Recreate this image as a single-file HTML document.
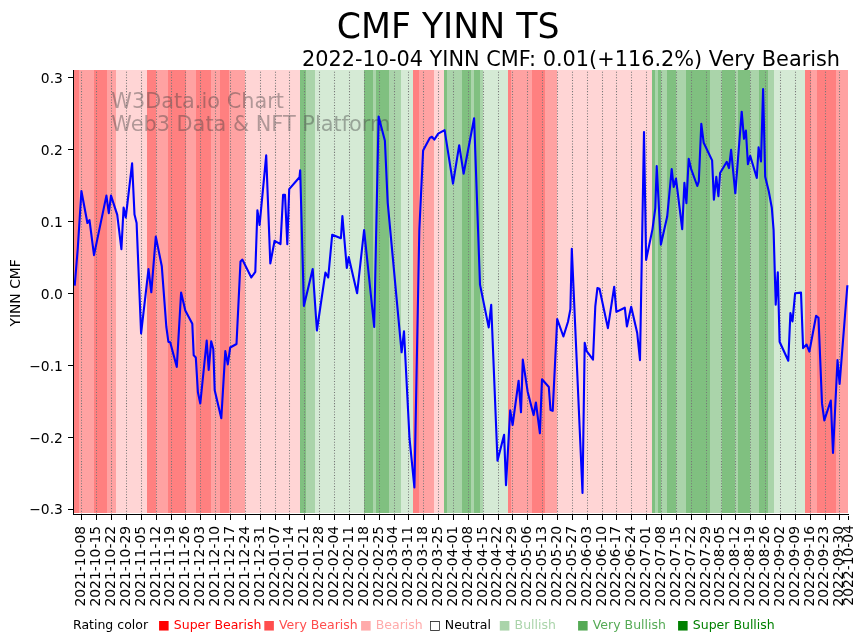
<!DOCTYPE html>
<html><head><meta charset="utf-8"><title>CMF YINN TS</title>
<style>html,body{margin:0;padding:0;background:#fff;}svg{display:block;will-change:transform;}text{font-family:"DejaVu Sans","Liberation Sans",sans-serif;}</style></head><body>
<svg width="867" height="641" viewBox="0 0 867 641">
<rect width="867" height="641" fill="#fff"/>
<g shape-rendering="crispEdges">
<rect x="74.00" y="69.9" width="5.00" height="442.90" fill="#ff8080"/>
<rect x="79.00" y="69.9" width="14.90" height="442.90" fill="#ffa2a2"/>
<rect x="93.90" y="69.9" width="13.00" height="442.90" fill="#ff8080"/>
<rect x="106.90" y="69.9" width="9.00" height="442.90" fill="#ffa2a2"/>
<rect x="115.90" y="69.9" width="31.10" height="442.90" fill="#ffd5d5"/>
<rect x="147.00" y="69.9" width="8.80" height="442.90" fill="#ff8080"/>
<rect x="155.80" y="69.9" width="12.20" height="442.90" fill="#ffa2a2"/>
<rect x="168.00" y="69.9" width="18.10" height="442.90" fill="#ff8080"/>
<rect x="186.10" y="69.9" width="9.95" height="442.90" fill="#ffa2a2"/>
<rect x="196.05" y="69.9" width="14.85" height="442.90" fill="#ff8080"/>
<rect x="210.90" y="69.9" width="8.90" height="442.90" fill="#ffa2a2"/>
<rect x="219.80" y="69.9" width="9.30" height="442.90" fill="#ff8080"/>
<rect x="229.10" y="69.9" width="15.70" height="442.90" fill="#ffa2a2"/>
<rect x="244.80" y="69.9" width="55.20" height="442.90" fill="#ffd5d5"/>
<rect x="300.00" y="69.9" width="5.90" height="442.90" fill="#80c080"/>
<rect x="305.90" y="69.9" width="9.00" height="442.90" fill="#aad4aa"/>
<rect x="314.90" y="69.9" width="48.90" height="442.90" fill="#d5ead5"/>
<rect x="363.80" y="69.9" width="9.20" height="442.90" fill="#80c080"/>
<rect x="373.00" y="69.9" width="3.00" height="442.90" fill="#aad4aa"/>
<rect x="376.00" y="69.9" width="12.90" height="442.90" fill="#80c080"/>
<rect x="388.90" y="69.9" width="12.10" height="442.90" fill="#aad4aa"/>
<rect x="401.00" y="69.9" width="12.00" height="442.90" fill="#d5ead5"/>
<rect x="413.00" y="69.9" width="5.80" height="442.90" fill="#ff8080"/>
<rect x="418.80" y="69.9" width="15.20" height="442.90" fill="#ffa2a2"/>
<rect x="434.00" y="69.9" width="10.00" height="442.90" fill="#ffd5d5"/>
<rect x="444.00" y="69.9" width="2.90" height="442.90" fill="#80c080"/>
<rect x="446.90" y="69.9" width="15.20" height="442.90" fill="#aad4aa"/>
<rect x="462.10" y="69.9" width="8.80" height="442.90" fill="#80c080"/>
<rect x="470.90" y="69.9" width="2.90" height="442.90" fill="#aad4aa"/>
<rect x="473.80" y="69.9" width="6.10" height="442.90" fill="#80c080"/>
<rect x="479.90" y="69.9" width="2.80" height="442.90" fill="#aad4aa"/>
<rect x="482.70" y="69.9" width="25.20" height="442.90" fill="#d5ead5"/>
<rect x="507.90" y="69.9" width="3.20" height="442.90" fill="#ff8080"/>
<rect x="511.10" y="69.9" width="20.90" height="442.90" fill="#ffa2a2"/>
<rect x="532.00" y="69.9" width="12.90" height="442.90" fill="#ff8080"/>
<rect x="544.90" y="69.9" width="12.00" height="442.90" fill="#ffa2a2"/>
<rect x="556.90" y="69.9" width="95.10" height="442.90" fill="#ffd5d5"/>
<rect x="652.00" y="69.9" width="2.90" height="442.90" fill="#80c080"/>
<rect x="654.90" y="69.9" width="3.20" height="442.90" fill="#aad4aa"/>
<rect x="658.10" y="69.9" width="2.70" height="442.90" fill="#80c080"/>
<rect x="660.80" y="69.9" width="6.30" height="442.90" fill="#aad4aa"/>
<rect x="667.10" y="69.9" width="8.80" height="442.90" fill="#80c080"/>
<rect x="675.90" y="69.9" width="10.20" height="442.90" fill="#aad4aa"/>
<rect x="686.10" y="69.9" width="23.80" height="442.90" fill="#80c080"/>
<rect x="709.90" y="69.9" width="12.20" height="442.90" fill="#aad4aa"/>
<rect x="722.10" y="69.9" width="12.70" height="442.90" fill="#80c080"/>
<rect x="734.80" y="69.9" width="3.40" height="442.90" fill="#aad4aa"/>
<rect x="738.20" y="69.9" width="11.70" height="442.90" fill="#80c080"/>
<rect x="749.90" y="69.9" width="9.20" height="442.90" fill="#aad4aa"/>
<rect x="759.10" y="69.9" width="8.80" height="442.90" fill="#80c080"/>
<rect x="767.90" y="69.9" width="6.00" height="442.90" fill="#aad4aa"/>
<rect x="773.90" y="69.9" width="31.20" height="442.90" fill="#d5ead5"/>
<rect x="805.10" y="69.9" width="6.10" height="442.90" fill="#ff8080"/>
<rect x="811.20" y="69.9" width="5.80" height="442.90" fill="#ffa2a2"/>
<rect x="817.00" y="69.9" width="18.90" height="442.90" fill="#ff8080"/>
<rect x="835.90" y="69.9" width="12.00" height="442.90" fill="#ffa2a2"/>
</g>
<g fill="#3c3c3c" fill-opacity="0.4" font-size="20.83px">
<text x="111.3" y="108.0">W3Data.io Chart</text>
<text x="111.3" y="130.6">Web3 Data &amp; NFT Platform</text>
</g>
<g stroke="#777" stroke-width="1.04" stroke-dasharray="1.04 1.721" stroke-dashoffset="0.39">
<line x1="81.5" y1="514.2" x2="81.5" y2="69.9"/>
<line x1="96.5" y1="514.2" x2="96.5" y2="69.9"/>
<line x1="111.5" y1="514.2" x2="111.5" y2="69.9"/>
<line x1="126.5" y1="514.2" x2="126.5" y2="69.9"/>
<line x1="141.5" y1="514.2" x2="141.5" y2="69.9"/>
<line x1="156.5" y1="514.2" x2="156.5" y2="69.9"/>
<line x1="171.5" y1="514.2" x2="171.5" y2="69.9"/>
<line x1="185.5" y1="514.2" x2="185.5" y2="69.9"/>
<line x1="200.5" y1="514.2" x2="200.5" y2="69.9"/>
<line x1="215.5" y1="514.2" x2="215.5" y2="69.9"/>
<line x1="230.5" y1="514.2" x2="230.5" y2="69.9"/>
<line x1="245.5" y1="514.2" x2="245.5" y2="69.9"/>
<line x1="260.5" y1="514.2" x2="260.5" y2="69.9"/>
<line x1="275.5" y1="514.2" x2="275.5" y2="69.9"/>
<line x1="289.5" y1="514.2" x2="289.5" y2="69.9"/>
<line x1="304.5" y1="514.2" x2="304.5" y2="69.9"/>
<line x1="319.5" y1="514.2" x2="319.5" y2="69.9"/>
<line x1="334.5" y1="514.2" x2="334.5" y2="69.9"/>
<line x1="349.5" y1="514.2" x2="349.5" y2="69.9"/>
<line x1="364.5" y1="514.2" x2="364.5" y2="69.9"/>
<line x1="379.5" y1="514.2" x2="379.5" y2="69.9"/>
<line x1="394.5" y1="514.2" x2="394.5" y2="69.9"/>
<line x1="408.5" y1="514.2" x2="408.5" y2="69.9"/>
<line x1="423.5" y1="514.2" x2="423.5" y2="69.9"/>
<line x1="438.5" y1="514.2" x2="438.5" y2="69.9"/>
<line x1="453.5" y1="514.2" x2="453.5" y2="69.9"/>
<line x1="468.5" y1="514.2" x2="468.5" y2="69.9"/>
<line x1="483.5" y1="514.2" x2="483.5" y2="69.9"/>
<line x1="498.5" y1="514.2" x2="498.5" y2="69.9"/>
<line x1="512.5" y1="514.2" x2="512.5" y2="69.9"/>
<line x1="527.5" y1="514.2" x2="527.5" y2="69.9"/>
<line x1="542.5" y1="514.2" x2="542.5" y2="69.9"/>
<line x1="557.5" y1="514.2" x2="557.5" y2="69.9"/>
<line x1="572.5" y1="514.2" x2="572.5" y2="69.9"/>
<line x1="587.5" y1="514.2" x2="587.5" y2="69.9"/>
<line x1="602.5" y1="514.2" x2="602.5" y2="69.9"/>
<line x1="616.5" y1="514.2" x2="616.5" y2="69.9"/>
<line x1="631.5" y1="514.2" x2="631.5" y2="69.9"/>
<line x1="646.5" y1="514.2" x2="646.5" y2="69.9"/>
<line x1="661.5" y1="514.2" x2="661.5" y2="69.9"/>
<line x1="676.5" y1="514.2" x2="676.5" y2="69.9"/>
<line x1="691.5" y1="514.2" x2="691.5" y2="69.9"/>
<line x1="706.5" y1="514.2" x2="706.5" y2="69.9"/>
<line x1="721.5" y1="514.2" x2="721.5" y2="69.9"/>
<line x1="735.5" y1="514.2" x2="735.5" y2="69.9"/>
<line x1="750.5" y1="514.2" x2="750.5" y2="69.9"/>
<line x1="765.5" y1="514.2" x2="765.5" y2="69.9"/>
<line x1="780.5" y1="514.2" x2="780.5" y2="69.9"/>
<line x1="795.5" y1="514.2" x2="795.5" y2="69.9"/>
<line x1="810.5" y1="514.2" x2="810.5" y2="69.9"/>
<line x1="825.5" y1="514.2" x2="825.5" y2="69.9"/>
<line x1="839.5" y1="514.2" x2="839.5" y2="69.9"/>
</g>
<path d="M74.8,284.6 L77.8,248.0 L81.4,191.0 L87.4,223.0 L89.5,220.2 L94.0,255.1 L106.4,195.6 L108.8,213.2 L111.0,195.6 L117.2,214.6 L121.4,249.2 L123.6,207.5 L125.8,217.4 L132.1,163.3 L134.5,214.6 L136.6,223.0 L141.1,333.5 L148.5,269.1 L151.3,292.3 L155.8,236.6 L161.8,266.3 L166.3,326.5 L168.4,341.9 L170.2,342.2 L176.8,366.9 L181.1,292.5 L185.3,310.4 L192.3,323.7 L193.7,355.3 L195.8,357.4 L197.9,392.3 L200.3,403.5 L206.7,340.5 L208.7,370.0 L211.2,341.2 L213.3,349.0 L214.7,390.2 L221.3,418.2 L225.3,351.1 L227.8,364.4 L230.2,347.5 L236.5,344.0 L240.5,261.4 L242.4,259.6 L251.3,277.5 L255.3,271.9 L257.4,210.2 L259.6,225.0 L266.2,155.4 L270.3,263.5 L274.6,240.8 L280.5,244.1 L283.1,194.7 L285.0,194.7 L287.3,244.1 L289.2,189.1 L299.5,177.2 L300.2,170.2 L303.9,306.0 L312.7,269.1 L316.9,330.5 L325.4,272.6 L328.2,277.5 L332.2,234.7 L340.9,238.2 L342.4,216.0 L346.8,268.0 L348.7,257.1 L357.1,293.3 L364.1,230.0 L374.2,327.0 L378.6,116.6 L384.9,140.7 L387.7,202.6 L401.6,352.3 L404.0,331.2 L409.5,438.2 L414.4,487.4 L419.3,230.7 L423.1,150.5 L429.8,137.9 L431.9,136.8 L434.3,139.6 L438.2,133.7 L444.6,130.2 L453.0,183.7 L459.2,145.2 L463.6,173.7 L474.1,118.2 L480.0,284.6 L488.7,327.4 L491.2,304.9 L497.5,460.7 L504.1,434.7 L506.0,485.3 L510.2,410.2 L512.6,425.0 L518.6,380.7 L521.0,412.3 L522.8,359.6 L527.7,391.9 L533.6,415.1 L535.9,402.5 L539.9,433.3 L542.0,379.3 L548.8,387.0 L550.5,410.0 L552.7,410.9 L557.2,319.0 L563.4,336.5 L568.0,321.8 L570.4,309.1 L571.8,248.8 L582.5,493.0 L584.7,342.8 L586.7,351.2 L593.0,359.6 L595.3,306.3 L597.4,288.1 L599.5,288.8 L607.9,328.1 L614.2,286.7 L616.4,311.9 L624.8,307.7 L626.9,326.5 L631.2,306.8 L637.2,333.0 L640.0,360.1 L644.0,132.0 L646.1,260.0 L652.5,229.1 L655.3,208.1 L656.7,166.0 L660.9,244.6 L667.2,216.5 L671.7,169.1 L673.7,187.0 L676.0,178.6 L682.2,229.1 L684.4,182.8 L686.4,203.2 L688.7,158.7 L691.1,168.8 L697.3,186.0 L698.8,181.4 L701.3,123.9 L703.7,142.8 L712.1,160.4 L713.9,199.6 L716.3,176.9 L718.4,196.1 L720.1,173.0 L726.8,161.8 L729.0,168.1 L731.1,149.8 L735.3,193.3 L741.7,111.7 L744.0,138.8 L745.9,130.5 L747.9,164.2 L750.2,155.8 L756.8,178.0 L758.6,147.4 L761.0,161.4 L763.1,89.1 L765.2,176.8 L768.7,190.9 L771.8,207.7 L773.6,230.2 L775.7,304.6 L777.8,272.3 L779.6,341.8 L788.3,360.7 L790.4,313.0 L792.5,321.4 L795.1,293.3 L801.0,292.6 L803.1,348.1 L806.6,344.6 L809.4,351.6 L816.1,315.8 L818.5,317.9 L822.0,403.4 L824.3,420.4 L830.8,400.5 L833.0,453.0 L837.5,360.0 L839.6,383.9 L847.3,286.3" fill="none" stroke="#0000ff" stroke-width="2.1" stroke-linejoin="round" stroke-linecap="square"/>
<g stroke="#000" stroke-width="1.11" shape-rendering="crispEdges">
<line x1="73.5" y1="69.9" x2="73.5" y2="514.9"/>
<line x1="72.9" y1="514.3" x2="848.9" y2="514.3"/>
<line x1="68.3" y1="77.5" x2="73.5" y2="77.5"/>
<line x1="68.3" y1="149.5" x2="73.5" y2="149.5"/>
<line x1="68.3" y1="221.5" x2="73.5" y2="221.5"/>
<line x1="68.3" y1="293.5" x2="73.5" y2="293.5"/>
<line x1="68.3" y1="365.5" x2="73.5" y2="365.5"/>
<line x1="68.3" y1="437.5" x2="73.5" y2="437.5"/>
<line x1="68.3" y1="509.5" x2="73.5" y2="509.5"/>
<line x1="81.5" y1="514.5" x2="81.5" y2="519.5"/>
<line x1="96.5" y1="514.5" x2="96.5" y2="519.5"/>
<line x1="111.5" y1="514.5" x2="111.5" y2="519.5"/>
<line x1="126.5" y1="514.5" x2="126.5" y2="519.5"/>
<line x1="141.5" y1="514.5" x2="141.5" y2="519.5"/>
<line x1="156.5" y1="514.5" x2="156.5" y2="519.5"/>
<line x1="171.5" y1="514.5" x2="171.5" y2="519.5"/>
<line x1="185.5" y1="514.5" x2="185.5" y2="519.5"/>
<line x1="200.5" y1="514.5" x2="200.5" y2="519.5"/>
<line x1="215.5" y1="514.5" x2="215.5" y2="519.5"/>
<line x1="230.5" y1="514.5" x2="230.5" y2="519.5"/>
<line x1="245.5" y1="514.5" x2="245.5" y2="519.5"/>
<line x1="260.5" y1="514.5" x2="260.5" y2="519.5"/>
<line x1="275.5" y1="514.5" x2="275.5" y2="519.5"/>
<line x1="289.5" y1="514.5" x2="289.5" y2="519.5"/>
<line x1="304.5" y1="514.5" x2="304.5" y2="519.5"/>
<line x1="319.5" y1="514.5" x2="319.5" y2="519.5"/>
<line x1="334.5" y1="514.5" x2="334.5" y2="519.5"/>
<line x1="349.5" y1="514.5" x2="349.5" y2="519.5"/>
<line x1="364.5" y1="514.5" x2="364.5" y2="519.5"/>
<line x1="379.5" y1="514.5" x2="379.5" y2="519.5"/>
<line x1="394.5" y1="514.5" x2="394.5" y2="519.5"/>
<line x1="408.5" y1="514.5" x2="408.5" y2="519.5"/>
<line x1="423.5" y1="514.5" x2="423.5" y2="519.5"/>
<line x1="438.5" y1="514.5" x2="438.5" y2="519.5"/>
<line x1="453.5" y1="514.5" x2="453.5" y2="519.5"/>
<line x1="468.5" y1="514.5" x2="468.5" y2="519.5"/>
<line x1="483.5" y1="514.5" x2="483.5" y2="519.5"/>
<line x1="498.5" y1="514.5" x2="498.5" y2="519.5"/>
<line x1="512.5" y1="514.5" x2="512.5" y2="519.5"/>
<line x1="527.5" y1="514.5" x2="527.5" y2="519.5"/>
<line x1="542.5" y1="514.5" x2="542.5" y2="519.5"/>
<line x1="557.5" y1="514.5" x2="557.5" y2="519.5"/>
<line x1="572.5" y1="514.5" x2="572.5" y2="519.5"/>
<line x1="587.5" y1="514.5" x2="587.5" y2="519.5"/>
<line x1="602.5" y1="514.5" x2="602.5" y2="519.5"/>
<line x1="616.5" y1="514.5" x2="616.5" y2="519.5"/>
<line x1="631.5" y1="514.5" x2="631.5" y2="519.5"/>
<line x1="646.5" y1="514.5" x2="646.5" y2="519.5"/>
<line x1="661.5" y1="514.5" x2="661.5" y2="519.5"/>
<line x1="676.5" y1="514.5" x2="676.5" y2="519.5"/>
<line x1="691.5" y1="514.5" x2="691.5" y2="519.5"/>
<line x1="706.5" y1="514.5" x2="706.5" y2="519.5"/>
<line x1="721.5" y1="514.5" x2="721.5" y2="519.5"/>
<line x1="735.5" y1="514.5" x2="735.5" y2="519.5"/>
<line x1="750.5" y1="514.5" x2="750.5" y2="519.5"/>
<line x1="765.5" y1="514.5" x2="765.5" y2="519.5"/>
<line x1="780.5" y1="514.5" x2="780.5" y2="519.5"/>
<line x1="795.5" y1="514.5" x2="795.5" y2="519.5"/>
<line x1="810.5" y1="514.5" x2="810.5" y2="519.5"/>
<line x1="825.5" y1="514.5" x2="825.5" y2="519.5"/>
<line x1="839.5" y1="514.5" x2="839.5" y2="519.5"/>
<line x1="848.5" y1="516.2" x2="848.5" y2="519.5"/>
</g>
<g font-size="13.89px" fill="#000" text-anchor="end">
<text x="62.9" y="82.60">0.3</text>
<text x="62.9" y="154.58">0.2</text>
<text x="62.9" y="226.56">0.1</text>
<text x="62.9" y="298.54">0.0</text>
<text x="62.9" y="370.52">−0.1</text>
<text x="62.9" y="442.50">−0.2</text>
<text x="62.9" y="514.48">−0.3</text>
</g>
<g font-size="13.89px" fill="#000" text-anchor="end">
<text transform="translate(85.27,525.90) rotate(-90)">2021-10-08</text>
<text transform="translate(100.13,525.90) rotate(-90)">2021-10-15</text>
<text transform="translate(114.99,525.90) rotate(-90)">2021-10-22</text>
<text transform="translate(129.86,525.90) rotate(-90)">2021-10-29</text>
<text transform="translate(144.72,525.90) rotate(-90)">2021-11-05</text>
<text transform="translate(159.59,525.90) rotate(-90)">2021-11-12</text>
<text transform="translate(174.45,525.90) rotate(-90)">2021-11-19</text>
<text transform="translate(189.32,525.90) rotate(-90)">2021-11-26</text>
<text transform="translate(204.18,525.90) rotate(-90)">2021-12-03</text>
<text transform="translate(219.04,525.90) rotate(-90)">2021-12-10</text>
<text transform="translate(233.91,525.90) rotate(-90)">2021-12-17</text>
<text transform="translate(248.77,525.90) rotate(-90)">2021-12-24</text>
<text transform="translate(263.64,525.90) rotate(-90)">2021-12-31</text>
<text transform="translate(278.50,525.90) rotate(-90)">2022-01-07</text>
<text transform="translate(293.37,525.90) rotate(-90)">2022-01-14</text>
<text transform="translate(308.23,525.90) rotate(-90)">2022-01-21</text>
<text transform="translate(323.10,525.90) rotate(-90)">2022-01-28</text>
<text transform="translate(337.96,525.90) rotate(-90)">2022-02-04</text>
<text transform="translate(352.82,525.90) rotate(-90)">2022-02-11</text>
<text transform="translate(367.69,525.90) rotate(-90)">2022-02-18</text>
<text transform="translate(382.55,525.90) rotate(-90)">2022-02-25</text>
<text transform="translate(397.42,525.90) rotate(-90)">2022-03-04</text>
<text transform="translate(412.28,525.90) rotate(-90)">2022-03-11</text>
<text transform="translate(427.15,525.90) rotate(-90)">2022-03-18</text>
<text transform="translate(442.01,525.90) rotate(-90)">2022-03-25</text>
<text transform="translate(456.88,525.90) rotate(-90)">2022-04-01</text>
<text transform="translate(471.74,525.90) rotate(-90)">2022-04-08</text>
<text transform="translate(486.60,525.90) rotate(-90)">2022-04-15</text>
<text transform="translate(501.47,525.90) rotate(-90)">2022-04-22</text>
<text transform="translate(516.33,525.90) rotate(-90)">2022-04-29</text>
<text transform="translate(531.20,525.90) rotate(-90)">2022-05-06</text>
<text transform="translate(546.06,525.90) rotate(-90)">2022-05-13</text>
<text transform="translate(560.93,525.90) rotate(-90)">2022-05-20</text>
<text transform="translate(575.79,525.90) rotate(-90)">2022-05-27</text>
<text transform="translate(590.65,525.90) rotate(-90)">2022-06-03</text>
<text transform="translate(605.52,525.90) rotate(-90)">2022-06-10</text>
<text transform="translate(620.38,525.90) rotate(-90)">2022-06-17</text>
<text transform="translate(635.25,525.90) rotate(-90)">2022-06-24</text>
<text transform="translate(650.11,525.90) rotate(-90)">2022-07-01</text>
<text transform="translate(664.98,525.90) rotate(-90)">2022-07-08</text>
<text transform="translate(679.84,525.90) rotate(-90)">2022-07-15</text>
<text transform="translate(694.71,525.90) rotate(-90)">2022-07-22</text>
<text transform="translate(709.57,525.90) rotate(-90)">2022-07-29</text>
<text transform="translate(724.43,525.90) rotate(-90)">2022-08-05</text>
<text transform="translate(739.30,525.90) rotate(-90)">2022-08-12</text>
<text transform="translate(754.16,525.90) rotate(-90)">2022-08-19</text>
<text transform="translate(769.03,525.90) rotate(-90)">2022-08-26</text>
<text transform="translate(783.89,525.90) rotate(-90)">2022-09-02</text>
<text transform="translate(798.76,525.90) rotate(-90)">2022-09-09</text>
<text transform="translate(813.62,525.90) rotate(-90)">2022-09-16</text>
<text transform="translate(828.49,525.90) rotate(-90)">2022-09-23</text>
<text transform="translate(843.35,525.90) rotate(-90)">2022-09-30</text>
<text transform="translate(852.94,525.00) rotate(-90)">2022-10-04</text>
</g>
<text transform="translate(20.4,326.6) rotate(-90)" font-size="13.89px">YINN CMF</text>
<text x="336.7" y="38.4" font-size="34.72px">CMF YINN TS</text>
<text x="301.9" y="65.85" font-size="20.83px">2022-10-04 YINN CMF: 0.01(+116.2%) Very Bearish</text>
<g font-size="12.5px">
<text x="73.0" y="628.6" fill="#000">Rating color</text>
<text x="158.0" y="628.6" fill="#ff0000">■ Super Bearish</text>
<text x="263.2" y="628.6" fill="#ff4d4d">■ Very Bearish</text>
<text x="360.0" y="628.6" fill="#ffaaaa">■ Bearish</text>
<text x="429.0" y="628.6" fill="#000">□ Neutral</text>
<text x="498.8" y="628.6" fill="#aad4aa">■ Bullish</text>
<text x="577.0" y="628.6" fill="#55aa55">■ Very Bullish</text>
<text x="677.0" y="628.6" fill="#008000">■ Super Bullish</text>
</g>
</svg>
</body></html>
